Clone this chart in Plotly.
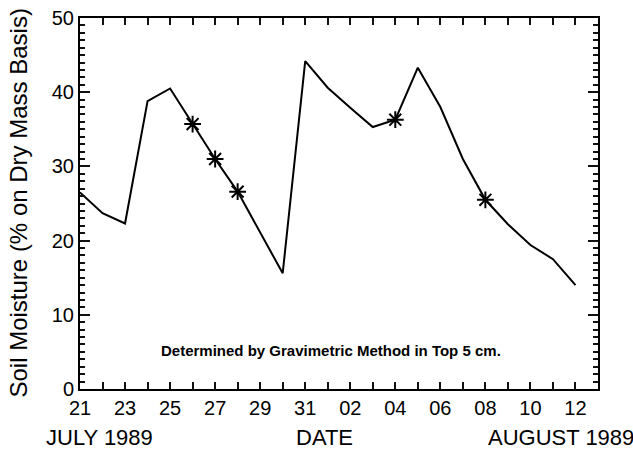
import plotly.graph_objects as go

# Daily soil moisture values (July 21 - Aug 12, 1989)
dates = [
    "1989-07-21", "1989-07-22", "1989-07-23", "1989-07-24", "1989-07-25",
    "1989-07-26", "1989-07-27", "1989-07-28", "1989-07-29", "1989-07-30",
    "1989-07-31", "1989-08-01", "1989-08-02", "1989-08-03", "1989-08-04",
    "1989-08-05", "1989-08-06", "1989-08-07", "1989-08-08", "1989-08-09",
    "1989-08-10", "1989-08-11", "1989-08-12",
]
moisture = [
    26.5, 23.7, 22.3, 38.8, 40.5,
    35.7, 31.0, 26.6, 21.1, 15.6,
    44.2, 40.6, 37.9, 35.3, 36.3,
    43.3, 38.0, 31.0, 25.5, 22.2,
    19.4, 17.5, 14.0,
]
# Gravimetric sampling days (marked with asterisks)
measured_dates = ["1989-07-26", "1989-07-27", "1989-07-28", "1989-08-04", "1989-08-08"]
measured_values = [moisture[dates.index(d)] for d in measured_dates]

x_range = ["1989-07-21", "1989-08-13"]
y_range = [0, 50]
DAY = 86400000
TICK = "#111111"

FONT = "Liberation Sans"

fig = go.Figure()
fig.add_trace(go.Scatter(
    x=dates, y=moisture, mode="lines",
    line=dict(color="black", width=2),
    showlegend=False, hoverinfo="skip",
))
fig.add_trace(go.Scatter(
    x=measured_dates, y=measured_values, mode="markers",
    marker=dict(symbol="asterisk-open", size=14, color="black",
                line=dict(color="black", width=2)),
    showlegend=False,
))
# transparent copies so the tick-only overlay axes are drawn
for xa, ya in [("x2", "y"), ("x3", "y"), ("x", "y2"), ("x", "y3"), ("x", "y4")]:
    fig.add_trace(go.Scatter(
        x=dates, y=moisture, mode="lines", xaxis=xa, yaxis=ya,
        line=dict(color="rgba(0,0,0,0)", width=0),
        showlegend=False, hoverinfo="skip",
    ))

fig.update_layout(
    template="none",
    width=633, height=449,
    margin=dict(l=80, r=35, t=18, b=60),
    font=dict(family=FONT, size=20),
    xaxis=dict(
        type="date", range=x_range,
        tick0=x_range[0], dtick=2 * DAY, tickformat="%d",
        ticks="inside", ticklen=7, tickwidth=2, tickcolor=TICK,
        showline=True, linewidth=2, linecolor="black", mirror=True,
        showgrid=False, tickfont=dict(size=20, color="black"),
    ),
    xaxis2=dict(
        type="date", range=x_range, overlaying="x", side="bottom", anchor="y",
        tick0=x_range[0], dtick=DAY, showticklabels=False,
        ticks="inside", ticklen=7, tickwidth=2, tickcolor=TICK,
        showline=False, showgrid=False,
    ),
    xaxis3=dict(
        type="date", range=x_range, overlaying="x", side="top", anchor="y",
        tick0=x_range[0], dtick=DAY, showticklabels=False,
        ticks="inside", ticklen=7, tickwidth=2, tickcolor=TICK,
        showline=False, showgrid=False,
    ),
    yaxis=dict(
        range=y_range,
        ticks="inside", ticklen=10, tickwidth=2, tickcolor=TICK,
        showline=True, linewidth=2, linecolor="black", mirror=True,
        showgrid=False, tickfont=dict(size=20, color="black"),
    ),
    yaxis2=dict(
        range=y_range, overlaying="y", side="right", anchor="x",
        showticklabels=False,
        ticks="inside", ticklen=10, tickwidth=2, tickcolor=TICK,
        showline=False, showgrid=False,
    ),
    yaxis3=dict(
        range=y_range, overlaying="y", side="left", anchor="x",
        tick0=0, dtick=1, showticklabels=False,
        ticks="inside", ticklen=5, tickwidth=2, tickcolor=TICK,
        showline=False, showgrid=False,
    ),
    yaxis4=dict(
        range=y_range, overlaying="y", side="right", anchor="x",
        tick0=0, dtick=1, showticklabels=False,
        ticks="inside", ticklen=5, tickwidth=2, tickcolor=TICK,
        showline=False, showgrid=False,
    ),
    annotations=[
        dict(text="Soil Moisture (% on Dry Mass Basis)", textangle=-90,
             x=(18 - 80) / 518, y=0.5, xref="paper", yref="paper",
             showarrow=False, font=dict(size=24, color="black"),
             xanchor="center", yanchor="middle"),
        dict(text="<b>Determined by Gravimetric Method in Top 5 cm.</b>",
             x=0.485, y=0.075, xref="paper", yref="paper",
             showarrow=False, font=dict(size=15, color="black")),
        dict(text="JULY 1989", x=(99 - 80) / 518, y=(389 - 437) / 371,
             xref="paper", yref="paper", showarrow=False,
             font=dict(size=22, color="black"),
             xanchor="center", yanchor="middle"),
        dict(text="DATE", x=(324 - 80) / 518, y=(389 - 437) / 371,
             xref="paper", yref="paper", showarrow=False,
             font=dict(size=22, color="black"),
             xanchor="center", yanchor="middle"),
        dict(text="AUGUST 1989", x=(561 - 80) / 518, y=(389 - 437) / 371,
             xref="paper", yref="paper", showarrow=False,
             font=dict(size=22, color="black"),
             xanchor="center", yanchor="middle"),
    ],
)

fig.write_html("out.html")
